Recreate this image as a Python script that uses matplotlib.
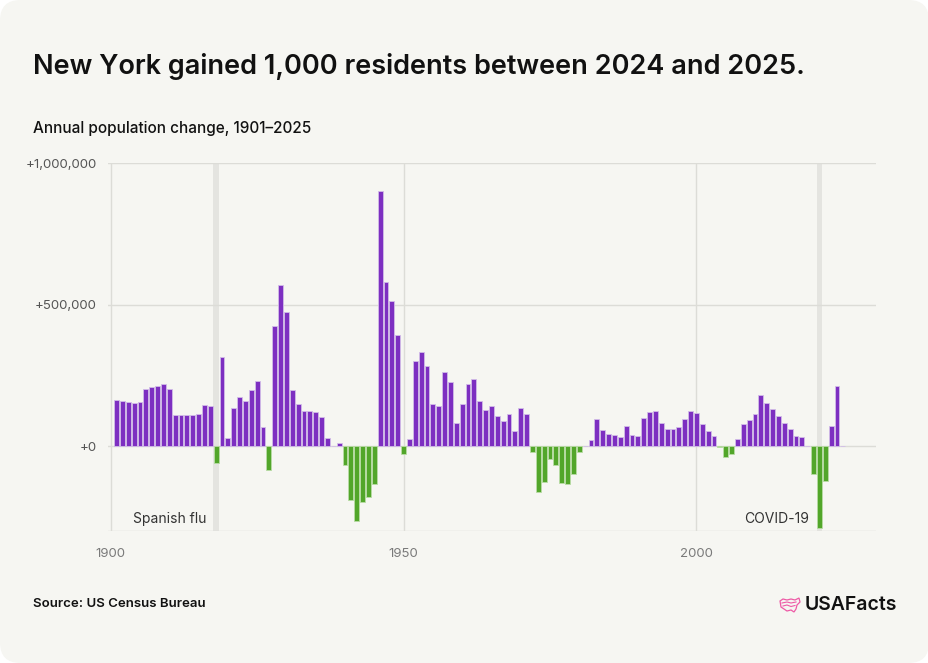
import matplotlib
matplotlib.use("Agg")
import matplotlib.pyplot as plt
from matplotlib.patches import FancyBboxPatch, Polygon
import numpy as np

# ---------------- data ----------------
years = list(range(1901, 2026))
change = [
    164700, 161000, 157600, 154000, 155000, 203500, 208000, 213000, 219000, 201000,   # 1901-1910
    110600, 110600, 110600, 110600, 113000, 147000, 143500, -58800, 314000, 28000,    # 1911-1920
    134000, 172000, 161000, 200000, 232000, 69000, -83500, 423500, 570600, 474000,    # 1921-1930
    200000, 150600, 123500, 126000, 120000, 103500, 28000, 2000, 9400, -68000,        # 1931-1940
    -190600, -266000, -196500, -181000, -134000, 902000, 582000, 513000, 394000, -28000,  # 1941-1950
    23500, 300000, 334000, 285000, 150600, 143500, 261000, 226000, 82000, 150600,     # 1951-1960
    221000, 239000, 159000, 127000, 143500, 107000, 90600, 115000, 53000, 134000,     # 1961-1970
    115000, -20000, -163500, -128000, -47000, -65000, -129000, -133000, -97600, -19000,  # 1971-1980
    1500, 20000, 95000, 56500, 44700, 40000, 33000, 70600, 40000, 35000,              # 1981-1990
    100000, 121000, 126000, 82000, 62000, 62000, 66000, 97600, 124700, 116500,        # 1991-2000
    79000, 53000, 36500, -3500, -40000, -29000, 26000, 77600, 93000, 112000,          # 2001-2010
    180000, 154000, 132000, 107000, 83500, 60000, 37600, 32000, 1000, -99000,         # 2011-2020
    -288000, -123500, 72000, 214000, 1000,                                            # 2021-2025
]
assert len(change) == len(years)

event_years = [1918, 2021]
event_labels = ["Spanish flu", "COVID-19"]
x_ticks = [1900, 1950, 2000]
y_ticks = [0, 500000, 1000000]
y_tick_labels = ["+0", "+500,000", "+1,000,000"]

title = "New York gained 1,000 residents between 2024 and 2025."
subtitle = "Annual population change, 1901\u20132025"
source = "Source: US Census Bureau"

# ---------------- style ----------------
W, H = 929, 663
BG = "#f6f6f2"
PURPLE = "#7d2fc1"
PURPLE_EDGE = "#d2bde8"
GREEN = "#52a62a"
GREEN_EDGE = "#b9dca5"
GRID = "#dcdcd7"
BAND = "#e4e4e0"
FONT = ["Inter", "DejaVu Sans"]

plt.rcParams["font.family"] = FONT

fig = plt.figure(figsize=(W / 100, H / 100), dpi=100)
fig.patch.set_facecolor("white")
card = FancyBboxPatch((0, 0), 1, 1, boxstyle="round,pad=0,rounding_size=0.022",
                      transform=fig.transFigure, facecolor=BG, edgecolor="none",
                      mutation_aspect=W / H, zorder=-10)
fig.patches.append(card)

# axes placement (pixels)
ax_left, ax_right = 108, 875.7
ax_top, ax_bot = 163.3, 531
ax = fig.add_axes([ax_left / W, (H - ax_bot) / H, (ax_right - ax_left) / W, (ax_bot - ax_top) / H])
ax.set_facecolor("none")

ax.set_xlim(1899.54, 2030.6)
ax.set_ylim(-300000, 1000000)

for y in [-300000] + y_ticks:
    ax.axhline(y, color=GRID, lw=1.0, zorder=1)
for x in x_ticks:
    ax.axvline(x, color=GRID, lw=1.0, zorder=1)

for ey in event_years:
    ax.axvspan(ey - 0.5, ey + 0.5, color=BAND, lw=0, zorder=0.5)

vals = np.array(change)
cols = [PURPLE if v >= 0 else GREEN for v in vals]
edges = [PURPLE_EDGE if v >= 0 else GREEN_EDGE for v in vals]
ax.bar(years, vals, width=0.82, color=cols, edgecolor=edges, linewidth=0.6, zorder=2)

ax.set_xticks(x_ticks)
ax.set_xticklabels([str(x) for x in x_ticks])
ax.set_yticks(y_ticks)
ax.set_yticklabels(y_tick_labels)
ax.tick_params(axis="x", length=0, pad=12, labelsize=9.5, labelcolor="#7a7a7a")
ax.tick_params(axis="y", length=0, pad=8, labelsize=9.5, labelcolor="#555555")
for s in ax.spines.values():
    s.set_visible(False)

# event labels
ax.text(1916.4, -257000, event_labels[0], ha="right", va="center", fontsize=10, color="#333333", zorder=3)
ax.text(2019.3, -257000, event_labels[1], ha="right", va="center", fontsize=10, color="#333333", zorder=3)

# titles
fig.text(33 / W, 1 - 67 / H, title, ha="left", va="center", fontsize=19.5,
         fontweight="semibold", color="#111111")
fig.text(33 / W, 1 - 128 / H, subtitle, ha="left", va="center", fontsize=11,
         fontweight="medium", color="#111111")
fig.text(33 / W, 1 - 604 / H, source, ha="left", va="center", fontsize=9.5,
         fontweight="semibold", color="#111111")

# logo
fig.text(897 / W, 1 - 605 / H, "USAFacts", ha="right", va="center", fontsize=14,
         fontweight="semibold", color="#111111")
lax = fig.add_axes([779 / W, (H - 614) / H, 22 / W, 18 / H])
lax.set_xlim(0, 22)
lax.set_ylim(0, 18)
lax.axis("off")
pink = "#ee5aa6"
outline = [(1, 13), (4, 15), (8, 14), (12, 15), (16, 14), (20, 16), (21, 12), (18, 9),
           (17, 5), (15, 2), (12, 4), (8, 3), (5, 5), (2, 7)]
lax.add_patch(Polygon(outline, closed=True, fill=False, edgecolor=pink, lw=0.9))
lax.plot([3, 8, 12, 17], [11, 12, 11, 12], color=pink, lw=0.8)
lax.plot([4, 8, 12, 16], [8, 9, 7.5, 8.5], color=pink, lw=0.8)

fig.savefig("out.png", dpi=100, facecolor=fig.get_facecolor())
